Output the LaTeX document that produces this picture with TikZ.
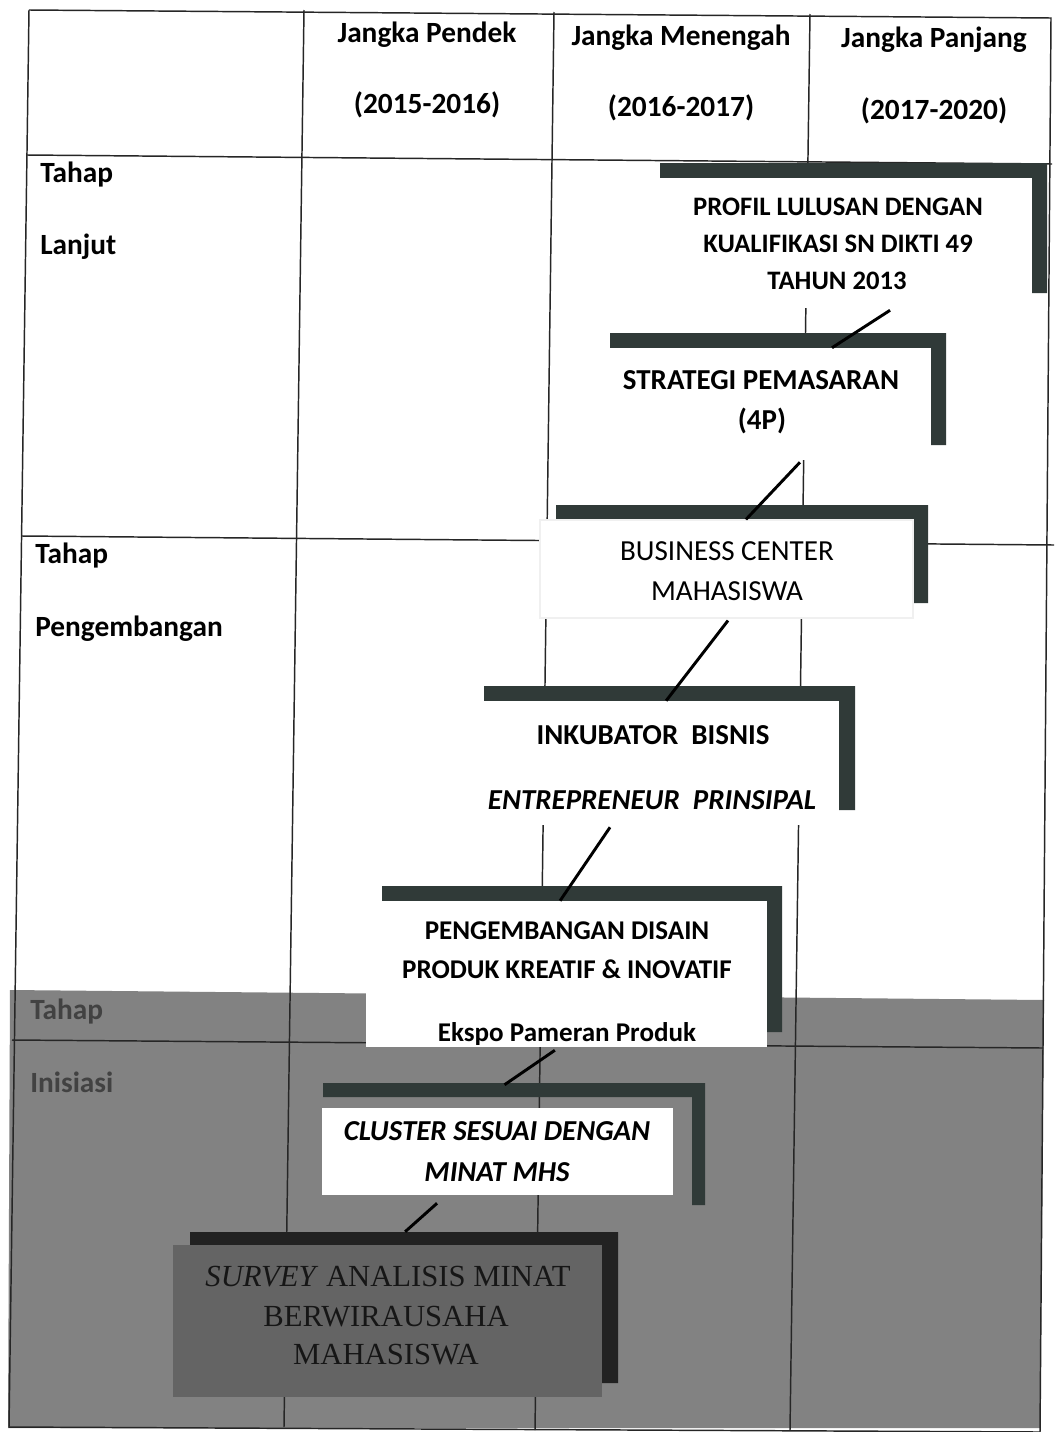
\documentclass[tikz,border=0pt]{standalone}
\usepackage{fontspec}
\setmainfont{Carlito}
\newfontfamily\serifx{Liberation Serif}
\usetikzlibrary{calc,fit}
\definecolor{shadowc}{RGB}{48,58,56}
\definecolor{scan}{RGB}{130,130,130}
\definecolor{surveyc}{RGB}{100,100,100}
\definecolor{surveysh}{RGB}{34,34,34}
\definecolor{labgray}{RGB}{66,66,66}
\definecolor{stxt}{RGB}{22,22,22}
\begin{document}
\begin{tikzpicture}[x=0.75pt,y=-0.75pt,
  gridline/.style={line width=1.1pt,black!85},
  bar/.style={fill=shadowc},
  wbox/.style={draw=none,fill=white,inner sep=0pt},
  conn/.style={line width=2.2pt,black},
  head/.style={font=\fontsize{22}{26}\selectfont\bfseries,inner sep=0pt},
  lab/.style={font=\fontsize{22}{26}\selectfont\bfseries,inner sep=0pt,anchor=west},
  btxt/.style={font=\fontsize{20}{24}\selectfont\bfseries,inner sep=0pt},
  bigtxt/.style={font=\fontsize{21.7}{26}\selectfont\bfseries,inner sep=0pt},
  rtxt/.style={font=\fontsize{21.8}{26}\selectfont,inner sep=0pt},
  itxt/.style={font=\fontsize{21.7}{26}\selectfont\bfseries\itshape,inner sep=0pt},
  stx/.style={font=\fontsize{23}{27}\selectfont\serifx,text=stxt,inner sep=0pt}
]
\useasboundingbox (0,0) rectangle (1054,1432);
\fill[white] (0,0) rectangle (1054,1432);
% scanned grey band
\fill[scan] (10,990) -- (1044,1000) -- (1040,1428) -- (8,1428) -- cycle;
% table lines
\draw[gridline] (29,10) -- (1051,18) -- (1040,1432);
\draw[gridline] (29,10) -- (9,1427) -- (1040,1432);
\draw[gridline] (27,155) -- (1052,164);
\draw[gridline] (22,536) -- (1054,545);
\draw[gridline] (12,1040) -- (1043,1048);
\draw[gridline] (304,10) -- (284,1427);
\draw[gridline] (554,12) -- (535,1430);
\draw[gridline] (810,14) -- (790,1430);
% header
\node[head] (hp1) at (427,35) {Jangka Pendek};
\node[head] (hy1) at (427,105) {(2015-2016)};
\node[head] (hp2) at (681,38) {Jangka Menengah};
\node[head] (hy2) at (681,108) {(2016-2017)};
\node[head] (hp3) at (934,40) {Jangka Panjang};
\node[head] (hy3) at (934,111) {(2017-2020)};
% row labels
\node[lab] (l1a) at (40,175) {Tahap};
\node[lab] (l1b) at (40,247) {Lanjut};
\node[lab] (l2a) at (35,556) {Tahap};
\node[lab] (l2b) at (35,629) {Pengembangan};
\node[lab,text=labgray] (l3a) at (30,1012) {Tahap};
\node[lab,text=labgray] (l3b) at (30,1082) {Inisiasi};
% shadows
\fill[bar] (660,163) rectangle (1047,178) (1032,163) rectangle (1047,293);
\fill[bar] (610,333) rectangle (946,348) (931,333) rectangle (946,445);
\fill[bar] (556,505) rectangle (928,520) (913,505) rectangle (928,603);
\fill[bar] (484,686) rectangle (855,701) (839,686) rectangle (855,810);
\fill[bar] (382,886) rectangle (782,901) (767,886) rectangle (782,1032);
\fill[bar] (323,1083) rectangle (705,1097) (692,1083) rectangle (705,1205);
\fill[surveysh] (190,1232) rectangle (618,1245) (602,1232) rectangle (618,1383);
% boxes
\node[wbox,fit={(644,178) (1032,308)}] (b1) {};
\node[wbox,fit={(594,348) (931,460)}] (b2) {};
\node[wbox,draw=black!6,line width=0.8pt,fit={(540,520) (913,618)}] (b3) {};
\node[wbox,fit={(468,701) (839,825)}] (b4) {};
\node[wbox,fit={(366,901) (767,1047)}] (b5) {};
\node[wbox,fit={(322,1108) (673,1195)}] (b6) {};
\node[wbox,fill=surveyc,fit={(173,1245) (602,1397)}] (b7) {};
% connectors
\coordinate (c1s) at ($(b1.south west)!0.634!(b1.south east)+(0,2)$);
\coordinate (c1e) at ($(b2.north west)!0.706!(b2.north east)$);
\coordinate (c2s) at ($(b2.south west)!0.611!(b2.south east)+(0,2)$);
\coordinate (c2e) at ($(b3.north west)!0.552!(b3.north east)$);
\coordinate (c3s) at ($(b3.south west)!0.504!(b3.south east)+(0,2)$);
\coordinate (c3e) at ($(b4.north west)!0.534!(b4.north east)$);
\coordinate (c4s) at ($(b4.south west)!0.383!(b4.south east)+(0,2)$);
\coordinate (c4e) at ($(b5.north west)!0.484!(b5.north east)$);
\coordinate (c5s) at ($(b5.south west)!0.471!(b5.south east)+(0,3)$);
\coordinate (c5e) at ($(b6.north west)!0.52!(b6.north east)+(0,-23)$);
\coordinate (c6s) at ($(b6.south west)!0.328!(b6.south east)+(0,8)$);
\coordinate (c6e) at ($(b7.north west)!0.541!(b7.north east)+(0,-13)$);
\draw[conn] (c1s) -- (c1e);
\draw[conn] (c2s) -- (c2e);
\draw[conn] (c3s) -- (c3e);
\draw[conn] (c4s) -- (c4e);
\draw[conn] (c5s) -- (c5e);
\draw[conn] (c6s) -- (c6e);
% box texts
\node[btxt] (t1a) at (838,207) {PROFIL LULUSAN DENGAN};
\node[btxt] (t1b) at (838,244) {KUALIFIKASI SN DIKTI 49};
\node[btxt] (t1c) at (837,281) {TAHUN 2013};
\node[bigtxt] (t2a) at (761,380) {STRATEGI PEMASARAN};
\node[bigtxt] (t2b) at (762,421) {(4P)};
\node[rtxt] (t3a) at (727,551) {BUSINESS CENTER};
\node[rtxt] (t3b) at (727,591) {MAHASISWA};
\node[bigtxt] (t4a) at (653,735) {INKUBATOR\ \ BISNIS};
\node[itxt] (t4b) at (652,800) {ENTREPRENEUR\ \ PRINSIPAL};
\node[btxt,font=\fontsize{20.3}{24}\selectfont\bfseries] (t5a) at (567,931) {PENGEMBANGAN DISAIN};
\node[btxt,font=\fontsize{20.3}{24}\selectfont\bfseries] (t5b) at (567,969) {PRODUK KREATIF \& INOVATIF};
\begin{scope}
\clip (366,901) rectangle (767,1044);
\node[btxt,font=\fontsize{20.3}{24}\selectfont\bfseries] (t5c) at (567,1034) {Ekspo Pameran Produk};
\end{scope}
\node[itxt] (t6a) at (497,1131) {CLUSTER SESUAI DENGAN};
\node[itxt] (t6b) at (497,1172) {MINAT MHS};
\node[stx] (t7a) at (388,1277) {\textit{SURVEY} ANALISIS MINAT};
\node[stx] (t7b) at (386,1317) {BERWIRAUSAHA};
\node[stx] (t7c) at (386,1355) {MAHASISWA};
\end{tikzpicture}
\end{document}
